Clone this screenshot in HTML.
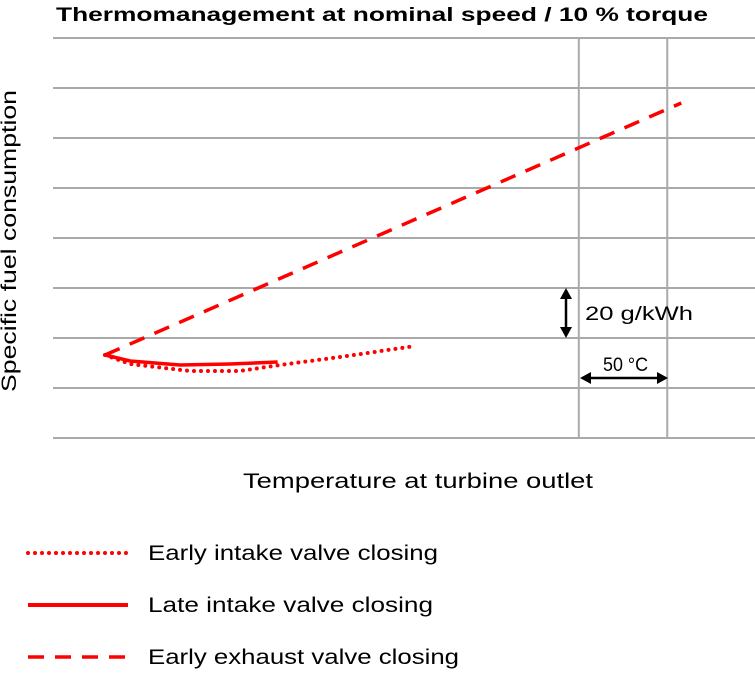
<!DOCTYPE html>
<html><head><meta charset="utf-8"><style>
html,body{margin:0;padding:0;background:#fff;}
svg{display:block;font-family:"Liberation Sans",sans-serif;}
</style></head><body>
<svg id="chart" width="755" height="676" viewBox="0 0 755 676">
<text x="56" y="21" font-size="19" font-weight="bold" textLength="652" lengthAdjust="spacingAndGlyphs">Thermomanagement at nominal speed / 10 % torque</text>
<g id="grid"></g>
<g id="series"></g>
<g>
<line x1="566" y1="292" x2="566" y2="334" stroke="#000" stroke-width="2.5"/>
<polygon points="566,288 560,299 572,299" fill="#000"/><polygon points="566,338 560,327 572,327" fill="#000"/>
<text x="585" y="320" font-size="19" textLength="108" lengthAdjust="spacingAndGlyphs">20 g/kWh</text>
<line x1="584" y1="378" x2="664" y2="378" stroke="#000" stroke-width="2.5"/>
<polygon points="580,378 591,372 591,384" fill="#000"/><polygon points="668,378 657,372 657,384" fill="#000"/>
<text x="603" y="371" font-size="19" textLength="45" lengthAdjust="spacingAndGlyphs">50 °C</text>
</g>
<text transform="translate(16,241) rotate(-90)" font-size="21" text-anchor="middle" textLength="302" lengthAdjust="spacingAndGlyphs">Specific fuel consumption</text>
<text x="243" y="488" font-size="21" textLength="350" lengthAdjust="spacingAndGlyphs">Temperature at turbine outlet</text>
<g>
<g>
<line x1="28" y1="553" x2="128" y2="553" stroke="#f00" stroke-width="4" stroke-dasharray="0 7" stroke-linecap="round"/>
<text x="148" y="560" font-size="21" textLength="290" lengthAdjust="spacingAndGlyphs">Early intake valve closing</text></g>
<g>
<line x1="28" y1="605" x2="128" y2="605" stroke="#f00" stroke-width="4"/>
<text x="148" y="612" font-size="21" textLength="285" lengthAdjust="spacingAndGlyphs">Late intake valve closing</text></g>
<g>
<line x1="28" y1="657" x2="128" y2="657" stroke="#f00" stroke-width="3.5" stroke-dasharray="16 11"/>
<text x="148" y="664" font-size="21" textLength="311" lengthAdjust="spacingAndGlyphs">Early exhaust valve closing</text></g>
</g>
</svg>
<script>
const gridLevels=[0,1,2,3,4,5,6,7,8];
const refTemps=[74.9,87.5];
const earlyIntakeX=[7.4,11.0,19.5,26.6,32.3,40.9,51.6];
const earlyIntakeY=[1.66,1.48,1.34,1.34,1.46,1.62,1.84];
const lateIntakeX=[7.4,11.0,18.1,25.2,32.0];
const lateIntakeY=[1.66,1.54,1.46,1.48,1.52];
const earlyExhaustX=[7.4,89.5];
const earlyExhaustY=[1.66,6.70];
const sx=v=>53+v*7.02, sy=v=>438-v*50;
const NS="http://www.w3.org/2000/svg";
const grid=document.getElementById('grid');
gridLevels.forEach(g=>{const l=document.createElementNS(NS,'line');
l.setAttribute('x1',53);l.setAttribute('x2',755);l.setAttribute('y1',sy(g));l.setAttribute('y2',sy(g));
l.setAttribute('stroke','#aaa');l.setAttribute('stroke-width','2');


grid.appendChild(l);});
refTemps.forEach(t=>{const l=document.createElementNS(NS,'line');
l.setAttribute('x1',sx(t));l.setAttribute('x2',sx(t));l.setAttribute('y1',sy(8));l.setAttribute('y2',sy(0));
l.setAttribute('stroke','#aaa');l.setAttribute('stroke-width','2');


grid.appendChild(l);});
const ser=document.getElementById('series');
function line(xs,ys,dash,w,cap){const p=document.createElementNS(NS,'polyline');
p.setAttribute('points',xs.map((x,i)=>sx(x)+','+sy(ys[i])).join(' '));
p.setAttribute('fill','none');p.setAttribute('stroke','#f00');p.setAttribute('stroke-width',w);
if(dash)p.setAttribute('stroke-dasharray',dash);if(cap)p.setAttribute('stroke-linecap',cap);
p.setAttribute('stroke-linejoin','round');
ser.appendChild(p);return p;}
const a=line(earlyIntakeX,earlyIntakeY,'0 7',4,'round');


const b=line(lateIntakeX,lateIntakeY,null,3.5);


const c=line(earlyExhaustX,earlyExhaustY,'16 11',3.5);


</script>
</body></html>
